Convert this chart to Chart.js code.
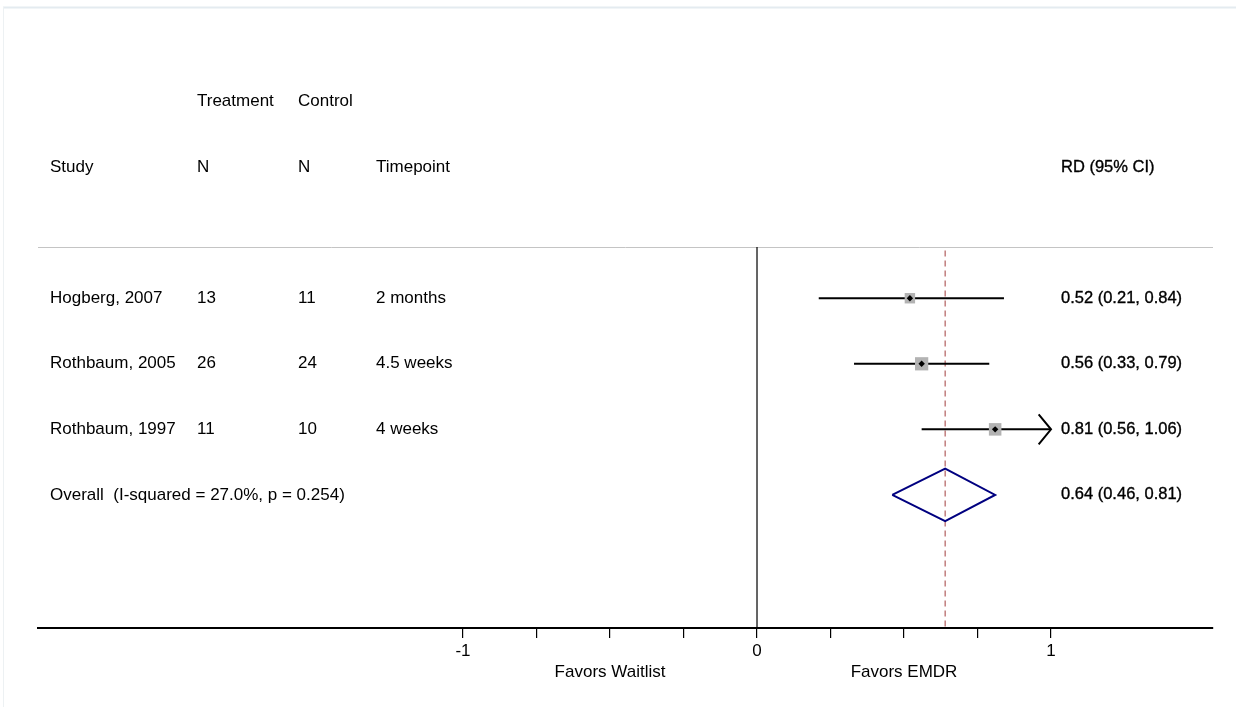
<!DOCTYPE html>
<html>
<head>
<meta charset="utf-8">
<script src="https://cdn.jsdelivr.net/npm/chart.js@4"></script>
<style>
  html, body { margin: 0; padding: 0; background: #fff; }
  #wrap { width: 1236px; height: 707px; }
</style>
</head>
<body>
<div id="wrap"><canvas id="forest" width="1236" height="707"></canvas></div>
<script>
// study data
var studies    = ['Hogberg, 2007', 'Rothbaum, 2005', 'Rothbaum, 1997'];
var treatN     = [13, 26, 11];
var controlN   = [11, 24, 10];
var timepoints = ['2 months', '4.5 weeks', '4 weeks'];
var rd         = [0.52, 0.56, 0.81];
var lower      = [0.21, 0.33, 0.56];
var upper      = [0.84, 0.79, 1.06];
var weights    = [24.6, 39.8, 35.6];

var overallRD    = 0.64;
var overallLower = 0.46;
var overallUpper = 0.81;
var overallLabel = 'Overall  (I-squared = 27.0%, p = 0.254)';

var headTop    = ['', 'Treatment', 'Control', ''];
var headBottom = ['Study', 'N', 'N', 'Timepoint'];
var headRight  = 'RD (95% CI)';

var xTicks      = [-1, -0.75, -0.5, -0.25, 0, 0.25, 0.5, 0.75, 1];
var xTickLabels = ['-1', '', '', '', '0', '', '', '', '1'];
var sideLabels  = ['Favors Waitlist', 'Favors EMDR'];
var sideAt      = [-0.5, 0.5];
var clipHi = 1;   // CIs past this get an arrow

// rows on the y scale
var rowTop = 0, rowHead = 1, rowSep = 2.22, rowFirst = 3;
var rowOverall = rowFirst + studies.length;
var rowBottom = 8.03;

var FONT = '"Liberation Sans", Arial, sans-serif';
var colX = [50, 197, 298, 376];
var rightX = 1061;

function fmt(v){ return v.toFixed(2); }

var datasets = [];

// centre markers
datasets.push({
	data: rd.map(function(v,i){ return {x:v, y:rowFirst+i}; }),
	pointStyle:'rectRot', pointRadius:3.2, backgroundColor:'#000', borderWidth:0, showLine:false
});
// weight boxes
datasets.push({
	data: rd.map(function(v,i){ return {x:v, y:rowFirst+i}; }),
	pointStyle:'rect',
	pointRadius: weights.map(function(w){ return 2.1*Math.sqrt(w)/Math.SQRT2; }),
	backgroundColor:'#b3b3b3', borderWidth:0, showLine:false
});
// confidence intervals
for(var i=0;i<studies.length;i++){
	datasets.push({
		data:[{x:lower[i], y:rowFirst+i}, {x:Math.min(upper[i],clipHi), y:rowFirst+i}],
		showLine:true, borderColor:'#000', borderWidth:2, pointRadius:0
	});
	if(upper[i] > clipHi){
		datasets.push({
			data:[{x:clipHi-0.042, y:rowFirst+i-0.23}, {x:clipHi, y:rowFirst+i}, {x:clipHi-0.042, y:rowFirst+i+0.23}],
			showLine:true, borderColor:'#000', borderWidth:2, pointRadius:0
		});
	}
}
// overall diamond
datasets.push({
	data:[
		{x:overallLower, y:rowOverall},
		{x:overallRD, y:rowOverall-0.4},
		{x:overallUpper, y:rowOverall},
		{x:overallRD, y:rowOverall+0.4},
		{x:overallLower, y:rowOverall}
	],
	showLine:true, borderColor:'#000080', borderWidth:2, pointRadius:0
});
// overall estimate dashed line
datasets.push({
	data:[{x:overallRD, y:rowSep+0.05}, {x:overallRD, y:rowBottom}],
	showLine:true, borderColor:'#b76a6a', borderWidth:1.3, borderDash:[6,4], pointRadius:0
});
// null line
datasets.push({
	data:[{x:0, y:rowSep}, {x:0, y:rowBottom}],
	showLine:true, borderColor:'#000', borderWidth:1.2, pointRadius:0
});

var frame = {
	id:'frame',
	beforeDraw:function(chart){
		var c = chart.ctx;
		c.save();
		c.fillStyle = '#fff';
		c.fillRect(0,0,chart.width,chart.height);
		c.strokeStyle = '#e4ebf0';
		c.lineWidth = 2;
		c.beginPath(); c.moveTo(3,7.5); c.lineTo(chart.width,7.5); c.stroke();
		c.strokeStyle = '#edf1f3';
		c.lineWidth = 1;
		c.beginPath(); c.moveTo(3.5,7); c.lineTo(3.5,chart.height); c.stroke();
		// header separator
		var x = chart.scales.x, y = chart.scales.y;
		c.strokeStyle = '#c4c4c4';
		c.lineWidth = 1;
		var ys = Math.round(y.getPixelForValue(rowSep))+0.5;
		c.beginPath(); c.moveTo(x.left,ys); c.lineTo(x.right,ys); c.stroke();
		c.restore();
	}
};

var labels = {
	id:'labels',
	afterDraw:function(chart){
		var c = chart.ctx, x = chart.scales.x, y = chart.scales.y;
		c.save();
		c.fillStyle = '#000';
		c.font = '17px ' + FONT;
		c.textBaseline = 'middle';
		c.textAlign = 'left';
		var k;
		for(k=0;k<headTop.length;k++){
			c.fillText(headTop[k], colX[k], y.getPixelForValue(rowTop));
			c.fillText(headBottom[k], colX[k], y.getPixelForValue(rowHead));
		}
		for(k=0;k<studies.length;k++){
			var py = y.getPixelForValue(rowFirst+k);
			c.fillText(studies[k], colX[0], py);
			c.fillText(String(treatN[k]), colX[1], py);
			c.fillText(String(controlN[k]), colX[2], py);
			c.fillText(timepoints[k], colX[3], py);
		}
		c.fillText(overallLabel, colX[0], y.getPixelForValue(rowOverall));

		// right column, slightly heavier
		c.font = '16.5px ' + FONT;
		c.strokeStyle = '#000';
		c.lineWidth = 0.35;
		var rt = [[headRight, rowHead]];
		for(k=0;k<studies.length;k++){
			rt.push([fmt(rd[k])+' ('+fmt(lower[k])+', '+fmt(upper[k])+')', rowFirst+k]);
		}
		rt.push([fmt(overallRD)+' ('+fmt(overallLower)+', '+fmt(overallUpper)+')', rowOverall]);
		rt.forEach(function(r){
			var py = y.getPixelForValue(r[1]);
			c.fillText(r[0], rightX, py);
			c.strokeText(r[0], rightX, py);
		});

		// favours labels under the axis
		c.font = '17px ' + FONT;
		c.textAlign = 'center';
		for(k=0;k<sideLabels.length;k++){
			c.fillText(sideLabels[k], x.getPixelForValue(sideAt[k]), x.bottom - 35);
		}
		c.restore();
	}
};

var chart = new Chart(document.getElementById('forest').getContext('2d'),{
	type:'scatter',
	data:{ datasets:datasets },
	options:{
		responsive:false,
		animation:false,
		events:[],
		layout:{ padding:{ left:38, right:23, top:36, bottom:0 } },
		plugins:{ legend:{display:false}, tooltip:{enabled:false} },
		scales:{
			x:{
				type:'linear',
				min:-2.4456,
				max:1.551,
				afterBuildTicks:function(s){ s.ticks = xTicks.map(function(v){ return {value:v}; }); },
				afterFit:function(s){ s.height = 79; },
				ticks:{
					autoSkip:false,
					maxRotation:0,
					padding:3,
					color:'#000',
					font:{ family:FONT, size:17 },
					callback:function(value){
						var idx = xTicks.indexOf(value);
						return idx >= 0 ? xTickLabels[idx] : '';
					}
				},
				grid:{ drawOnChartArea:false, drawTicks:true, tickLength:10, color:'#000', lineWidth:1.2 },
				border:{ display:true, color:'#000', width:2 }
			},
			y:{
				type:'linear',
				display:false,
				reverse:true,
				min:-1,
				max:rowBottom
			}
		}
	},
	plugins:[frame, labels]
});
</script>
</body>
</html>
